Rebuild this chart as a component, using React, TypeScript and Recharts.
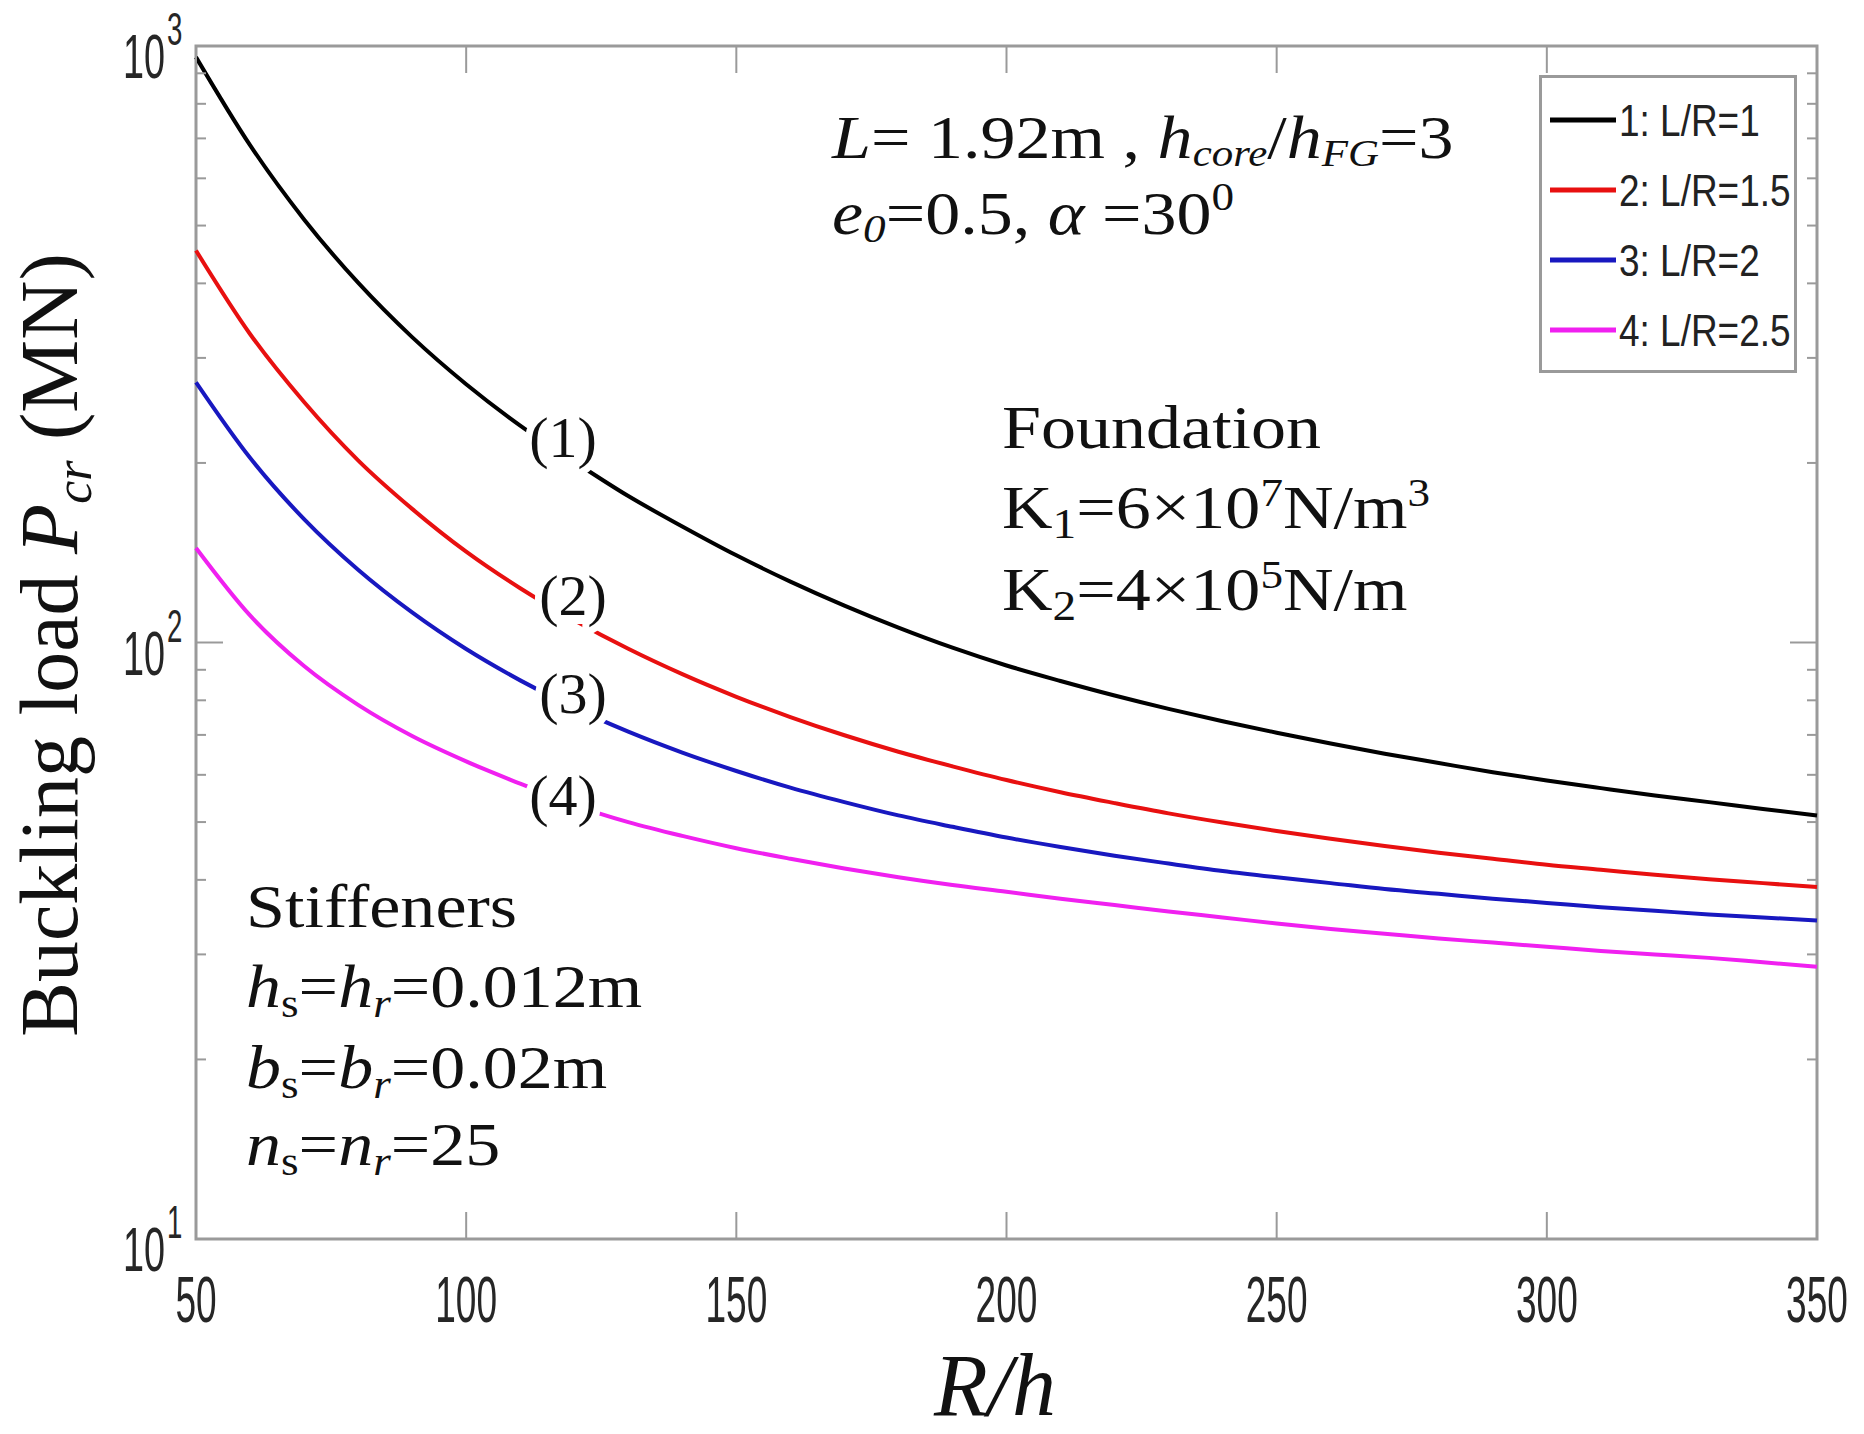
import React from "react";
import { LineChart, Line, XAxis, YAxis, Legend, ReferenceArea } from "recharts";

// R/h values and buckling loads (MN)
const ratio = [50, 60, 70, 80, 90, 100, 110, 120, 130, 140, 150, 160, 170, 180, 190, 200, 210, 220, 230, 240, 250, 260, 270, 280, 290, 300, 310, 320, 330, 340, 350];
const loadLR1 = [958, 682, 512, 401, 325, 271, 231, 201, 176, 156.5, 140, 126.5, 115.3, 105.9, 98, 91.5, 86.2, 81.5, 77.4, 73.8, 70.6, 67.7, 65.1, 62.8, 60.6, 58.7, 57, 55.4, 54, 52.6, 51.3];
const loadLR15 = [454, 329, 253, 202, 167.5, 142, 123.3, 109, 97.6, 88.5, 81.1, 75, 69.9, 65.6, 62, 58.8, 56.1, 53.8, 51.7, 49.9, 48.3, 46.9, 45.6, 44.4, 43.4, 42.4, 41.6, 40.8, 40.1, 39.5, 38.9];
const loadLR2 = [273, 204, 161, 132.4, 112.3, 97.5, 86.4, 77.7, 70.9, 65.4, 60.9, 57.1, 54, 51.3, 49.1, 47.1, 45.4, 43.9, 42.6, 41.4, 40.4, 39.5, 38.6, 37.9, 37.2, 36.6, 36, 35.5, 35, 34.6, 34.2];
const loadLR25 = [144, 111, 91.3, 78.6, 69.7, 63.2, 58, 53.4, 50, 47.4, 45.2, 43.4, 41.8, 40.4, 39.2, 38.2, 37.2, 36.3, 35.4, 34.6, 33.8, 33.1, 32.5, 31.9, 31.4, 30.9, 30.4, 30, 29.6, 29.1, 28.6];

const xTicks = [50, 100, 150, 200, 250, 300, 350];
const yTicks = [10, 20, 30, 40, 50, 60, 70, 80, 90, 100, 200, 300, 400, 500, 600, 700, 800, 900, 1000];

const series = [
  { key: "lr1", name: "1: L/R=1", color: "#000000" },
  { key: "lr15", name: "2: L/R=1.5", color: "#e81010" },
  { key: "lr2", name: "3: L/R=2", color: "#1818c0" },
  { key: "lr25", name: "4: L/R=2.5", color: "#f020f0" },
];

const data = ratio.map((r, i) => ({
  ratio: r,
  lr1: loadLR1[i],
  lr15: loadLR15[i],
  lr2: loadLR2[i],
  lr25: loadLR25[i],
}));

const W = 1864;
const H = 1434;
const PLOT_LEFT = 196;
const PLOT_RIGHT = 1817;
const PLOT_TOP = 46;
const AXIS = "#9a9a9a";
const SANS = "'Liberation Sans', Arial, sans-serif";
const SERIF = "'Liberation Serif', 'Times New Roman', serif";

const XTick = (props: any) => {
  const { x, y, payload } = props;
  return (
    <g>
      <line x1={x} x2={x} y1={y} y2={y - 27} stroke={AXIS} strokeWidth={2} />
      <line x1={x} x2={x} y1={PLOT_TOP} y2={PLOT_TOP + 27} stroke={AXIS} strokeWidth={2} />
      <text
        transform={`translate(${x},${y + 83}) scale(0.57,1)`}
        textAnchor="middle"
        fontFamily={SANS}
        fontSize={65}
        fill="#262626"
      >
        {payload.value}
      </text>
    </g>
  );
};

const YTick = (props: any) => {
  const { y, payload } = props;
  const lg = Math.log10(payload.value);
  const exp = Math.round(lg);
  const major = Math.abs(lg - exp) < 1e-6;
  const len = major ? 27 : 10;
  return (
    <g>
      <line x1={PLOT_LEFT} x2={PLOT_LEFT + len} y1={y} y2={y} stroke={AXIS} strokeWidth={2} />
      <line x1={PLOT_RIGHT} x2={PLOT_RIGHT - len} y1={y} y2={y} stroke={AXIS} strokeWidth={2} />
      {major && (
        <g fontFamily={SANS} fill="#262626">
          <text transform={`translate(${PLOT_LEFT - 31},${y + 32}) scale(0.6,1)`} textAnchor="end" fontSize={63}>
            10
          </text>
          <text transform={`translate(${PLOT_LEFT - 29},${y - 1}) scale(0.6,1)`} textAnchor="start" fontSize={46}>
            {exp}
          </text>
        </g>
      )}
    </g>
  );
};

const LegendBox = (props: any) => {
  const items = props.payload || [];
  return (
    <svg width={258} height={298}>
      <rect x={1.5} y={1.5} width={255} height={295} fill="#fff" stroke={AXIS} strokeWidth={3} />
      {items.map((entry: any, i: number) => {
        const cy = 45 + i * 70;
        return (
          <g key={entry.value}>
            <line x1={11} x2={77} y1={cy} y2={cy} stroke={entry.color} strokeWidth={5} />
            <text
              transform={`translate(80,${cy + 16}) scale(0.84,1)`}
              fontFamily={SANS}
              fontSize={44}
              fill="#222"
            >
              {entry.value}
            </text>
          </g>
        );
      })}
    </svg>
  );
};

const curveTags = [
  { text: "(1)", x: 563, y: 442 },
  { text: "(2)", x: 573, y: 600 },
  { text: "(3)", x: 573, y: 698 },
  { text: "(4)", x: 563, y: 800 },
];

const App = () => {
  return (
    <div style={{ position: "absolute", left: 0, top: 0, width: W, height: H, background: "#fff" }}>
      <LineChart width={W} height={H} data={data} margin={{ top: 46, right: 47, left: 0, bottom: 135 }}>
        <XAxis
          dataKey="ratio"
          type="number"
          domain={[50, 350]}
          ticks={xTicks}
          interval={0}
          height={60}
          axisLine={false}
          tickLine={false}
          tickSize={0}
          tickMargin={0}
          tick={<XTick />}
        />
        <YAxis
          scale="log"
          domain={[10, 1000]}
          ticks={yTicks}
          interval={0}
          allowDataOverflow
          width={196}
          axisLine={false}
          tickLine={false}
          tickSize={0}
          tickMargin={0}
          tick={<YTick />}
        />
        <ReferenceArea x1={50} x2={350} y1={10} y2={1000} fill="none" stroke={AXIS} strokeWidth={3} />
        {series.map((s) => (
          <Line
            key={s.key}
            type="monotone"
            dataKey={s.key}
            name={s.name}
            stroke={s.color}
            strokeWidth={4}
            dot={false}
            activeDot={false}
            isAnimationActive={false}
          />
        ))}
        <Legend
          layout="vertical"
          verticalAlign="middle"
          align="center"
          content={<LegendBox />}
          wrapperStyle={{ left: 1539, top: 75, width: 258, height: 298, right: "auto", bottom: "auto" }}
        />
      </LineChart>
      <svg
        width={W}
        height={H}
        style={{ position: "absolute", left: 0, top: 0, pointerEvents: "none" }}
        fontFamily={SERIF}
        fill="#111"
      >
        {curveTags.map((t) => (
          <g key={t.text}>
            <rect x={t.x - 26} y={t.y - 24} width={52} height={48} fill="#fff" />
            <text
              x={t.x}
              y={t.y + 15}
              textAnchor="middle"
              fontSize={58}
              stroke="#fff"
              strokeWidth={14}
              strokeLinejoin="round"
              paintOrder="stroke"
            >
              {t.text}
            </text>
          </g>
        ))}

        <text transform="translate(77,645) rotate(-90)" textAnchor="middle" fontSize={82}>
          Buckling load <tspan fontStyle="italic">P</tspan>
          <tspan fontStyle="italic" fontSize={52} dy={14}>cr</tspan>
          <tspan dy={-14}> (MN)</tspan>
        </text>

        <text x={995} y={1415} textAnchor="middle" fontSize={88} fontStyle="italic">
          R/h
        </text>

        <g transform="translate(832,158) scale(1.13,1)" fontSize={62}>
          <text x={0} y={0}>
            <tspan fontStyle="italic">L</tspan>= 1.92m , <tspan fontStyle="italic">h</tspan>
            <tspan fontStyle="italic" fontSize={38} dy={8}>core</tspan>
            <tspan dy={-8}>/</tspan>
            <tspan fontStyle="italic">h</tspan>
            <tspan fontStyle="italic" fontSize={38} dy={8}>FG</tspan>
            <tspan dy={-8}>=3</tspan>
          </text>
          <text x={0} y={76}>
            <tspan fontStyle="italic">e</tspan>
            <tspan fontStyle="italic" fontSize={40} dy={8}>0</tspan>
            <tspan dy={-8}>=0.5,  </tspan>
            <tspan fontStyle="italic">α</tspan> =30
            <tspan fontSize={40} dy={-24}>0</tspan>
          </text>
        </g>

        <g transform="translate(1002,448) scale(1.13,1)" fontSize={62}>
          <text x={0} y={0}>Foundation</text>
          <text x={0} y={80}>
            K<tspan fontSize={42} dy={10}>1</tspan>
            <tspan dy={-10}>=6×10</tspan>
            <tspan fontSize={40} dy={-22}>7</tspan>
            <tspan dy={22}>N/m</tspan>
            <tspan fontSize={40} dy={-22}>3</tspan>
          </text>
          <text x={0} y={162}>
            K<tspan fontSize={42} dy={10}>2</tspan>
            <tspan dy={-10}>=4×10</tspan>
            <tspan fontSize={40} dy={-22}>5</tspan>
            <tspan dy={22}>N/m</tspan>
          </text>
        </g>

        <g transform="translate(246,927) scale(1.13,1)" fontSize={62}>
          <text x={0} y={0}>Stiffeners</text>
          <text x={0} y={80}>
            <tspan fontStyle="italic">h</tspan>
            <tspan fontSize={40} dy={10}>s</tspan>
            <tspan dy={-10}>=</tspan>
            <tspan fontStyle="italic">h</tspan>
            <tspan fontStyle="italic" fontSize={40} dy={10}>r</tspan>
            <tspan dy={-10}>=0.012m</tspan>
          </text>
          <text x={0} y={161}>
            <tspan fontStyle="italic">b</tspan>
            <tspan fontSize={40} dy={10}>s</tspan>
            <tspan dy={-10}>=</tspan>
            <tspan fontStyle="italic">b</tspan>
            <tspan fontStyle="italic" fontSize={40} dy={10}>r</tspan>
            <tspan dy={-10}>=0.02m</tspan>
          </text>
          <text x={0} y={238}>
            <tspan fontStyle="italic">n</tspan>
            <tspan fontSize={40} dy={10}>s</tspan>
            <tspan dy={-10}>=</tspan>
            <tspan fontStyle="italic">n</tspan>
            <tspan fontStyle="italic" fontSize={40} dy={10}>r</tspan>
            <tspan dy={-10}>=25</tspan>
          </text>
        </g>
      </svg>
    </div>
  );
};

export default App;
